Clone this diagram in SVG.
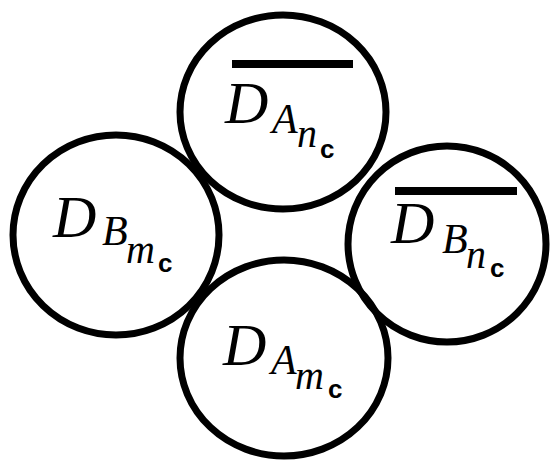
<svg xmlns="http://www.w3.org/2000/svg" width="552" height="462" viewBox="0 0 552 462">
<style>
.c{fill:none;stroke:#000;stroke-width:7}
.bar{stroke:#000;stroke-width:8}
text{font-family:"Liberation Serif",serif;font-style:italic}
.D{font-size:60px}
.s1{font-size:42px}
.s2{font-size:40px}
.s3{font-family:"Liberation Sans",sans-serif;font-style:normal;font-weight:bold;font-size:26px}
</style>
<rect width="552" height="462" fill="#fff"/>
<g id="top">
<ellipse class="c" cx="283" cy="112" rx="103" ry="97"/>
<line class="bar" x1="232" y1="64" x2="353" y2="64"/>
<text><tspan class="D" x="225" y="123">D</tspan><tspan class="s1" x="272" y="133">A</tspan><tspan class="s2" x="297" y="147">n</tspan><tspan class="s3" x="320" y="158">c</tspan></text>
</g>
<g id="left">
<ellipse class="c" cx="116" cy="235" rx="103" ry="100"/>
<text><tspan class="D" x="53" y="237">D</tspan><tspan class="s1" x="102" y="245">B</tspan><tspan class="s2" x="126" y="263">m</tspan><tspan class="s3" x="158" y="272">c</tspan></text>
</g>
<g id="right">
<ellipse class="c" cx="447" cy="244" rx="99" ry="98"/>
<line class="bar" x1="395" y1="191" x2="517" y2="191"/>
<text><tspan class="D" x="391" y="243">D</tspan><tspan class="s1" x="442" y="253">B</tspan><tspan class="s2" x="466" y="268">n</tspan><tspan class="s3" x="490" y="277">c</tspan></text>
</g>
<g id="bottom">
<ellipse class="c" cx="284" cy="358" rx="104" ry="98"/>
<text><tspan class="D" x="223" y="365">D</tspan><tspan class="s1" x="271" y="374">A</tspan><tspan class="s2" x="295" y="389">m</tspan><tspan class="s3" x="328" y="398">c</tspan></text>
</g>
<g id="connectors"></g>
</svg>
